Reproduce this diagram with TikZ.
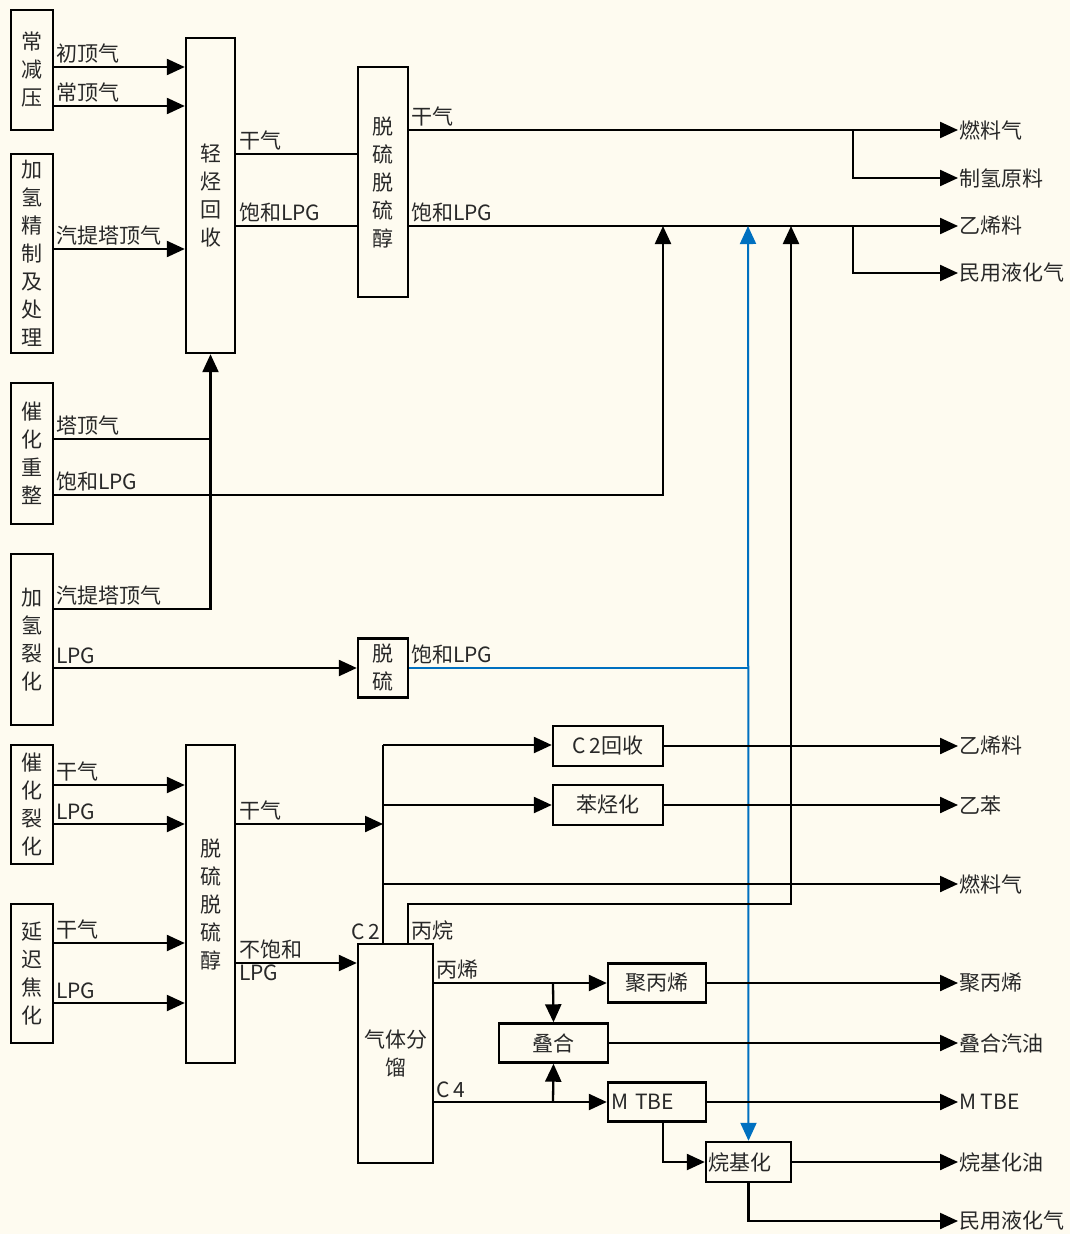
\documentclass[tikz,border=0pt]{standalone}
\usepackage{fontspec}
\setmainfont{Noto Sans CJK SC}
\usetikzlibrary{arrows.meta}
\definecolor{bg}{RGB}{254,251,240}
\definecolor{txt}{RGB}{40,40,40}
\definecolor{bl}{RGB}{0,112,192}
\begin{document}
\begin{tikzpicture}[x=1pt,y=-1pt,
  box/.style={draw=black, line width=2.4pt, inner sep=0pt, align=center, text=txt, font=\fontsize{21}{28}\selectfont},
  lbl/.style={inner sep=1pt, text=txt, font=\fontsize{21}{24}\selectfont},
  abv/.style={lbl, anchor=south west, yshift=3pt},
  ln/.style={line width=2.3pt},
  arr/.style={ln, -{Triangle[length=18pt,width=16pt]}},
  blu/.style={line width=2pt, draw=bl},
  bluarr/.style={line width=2pt, draw=bl, {Triangle[length=18pt,width=16pt]}-{Triangle[length=18pt,width=16pt]}},
]
\fill[bg] (0,0) rectangle (1070,1234);
\useasboundingbox (0,0) rectangle (1070,1234);

% ---- boxes ----
\node[box, minimum width=42, minimum height=120] (cjy) at (32,70) {常\\减\\压};
\node[box, minimum width=42, minimum height=199] (jqj) at (32,253.5) {加\\氢\\精\\制\\及\\处\\理};
\node[box, minimum width=42, minimum height=141] (chz) at (32,453.5) {催\\化\\重\\整};
\node[box, minimum width=42, minimum height=171] (jql) at (32,639.5) {加\\氢\\裂\\化};
\node[box, minimum width=42, minimum height=119] (chl) at (32,804.5) {催\\化\\裂\\化};
\node[box, minimum width=42, minimum height=139] (yjj) at (32,973.5) {延\\迟\\焦\\化};
\node[box, minimum width=49, minimum height=315] (qths) at (210.5,195.5) {轻\\烃\\回\\收};
\node[box, minimum width=50, minimum height=230] (tl1) at (383,182) {脱\\硫\\脱\\硫\\醇};
\node[box, minimum width=50, minimum height=59] (tl) at (383,668) {脱\\硫};
\node[box, minimum width=49, minimum height=318] (tl2) at (210.5,904) {脱\\硫\\脱\\硫\\醇};
\node[box, minimum width=110, minimum height=40] (c2) at (608,746) {C\,2回收};
\node[box, minimum width=110, minimum height=40] (bth) at (608,805) {苯烃化};
\node[box, minimum width=75, minimum height=219] (qtf) at (395.5,1053.5) {气体分\\馏};
\node[box, minimum width=98, minimum height=39] (jbx) at (657,983) {聚丙烯};
\node[box, minimum width=109, minimum height=39] (dh) at (553.5,1043) {叠合};
\node[box, minimum width=98, minimum height=39, text width=92, align=left] (mtbe) at (657,1102) {M TBE};
\node[box, minimum width=85, minimum height=40, text width=80, align=left] (wjh) at (748.5,1162) {烷基化};

% ---- output labels ----
\node[lbl, anchor=west] (o1) at (958,130) {燃料气};
\node[lbl, anchor=west] (o2) at (958,178) {制氢原料};
\node[lbl, anchor=west] (o3) at (958,226) {乙烯料};
\node[lbl, anchor=west] (o4) at (958,273) {民用液化气};
\node[lbl, anchor=west] (o5) at (958,746) {乙烯料};
\node[lbl, anchor=west] (o6) at (958,805) {乙苯};
\node[lbl, anchor=west] (o7) at (958,884) {燃料气};
\node[lbl, anchor=west] (o8) at (958,983) {聚丙烯};
\node[lbl, anchor=west] (o9) at (958,1043) {叠合汽油};
\node[lbl, anchor=west] (o10) at (958,1102) {M TBE};
\node[lbl, anchor=west] (o11) at (958,1162) {烷基化油};
\node[lbl, anchor=west] (o12) at (958,1221) {民用液化气};

% ---- line labels ----
\node[abv] (l1) at (55,67) {初顶气};
\node[abv] (l2) at (55,106) {常顶气};
\node[abv] (l3) at (55,249) {汽提塔顶气};
\node[abv] (l4) at (238,154) {干气};
\node[abv] (l5) at (238,226) {饱和LPG};
\node[abv] (l6) at (410,130) {干气};
\node[abv] (l7) at (410,226) {饱和LPG};
\node[abv] (l8) at (55,439) {塔顶气};
\node[abv] (l9) at (55,495) {饱和LPG};
\node[abv] (l10) at (55,609) {汽提塔顶气};
\node[abv] (l11) at (55,668) {LPG};
\node[abv] (l12) at (410,668) {饱和LPG};
\node[abv] (l13) at (55,785) {干气};
\node[abv] (l14) at (55,824) {LPG};
\node[abv] (l15) at (55,943) {干气};
\node[abv] (l16) at (55,1003) {LPG};
\node[abv] (l17) at (238,824) {干气};
\node[abv] (l18) at (238,963) {不饱和};
\node[lbl, anchor=north west] (l19) at (238,964) {LPG};
\node[lbl, anchor=south east, yshift=3pt] (l20) at (381,944) {C\,2};
\node[abv] (l21) at (410,944) {丙烷};
\node[abv] (l22) at (435,983) {丙烯};
\node[abv] (l23) at (435,1102) {C\,4};

% ---- junction coordinates ----
\coordinate (b1) at (853,130);
\coordinate (b2) at (853,226);
\coordinate (j1) at (663,226);
\coordinate (j2) at (748,226);
\coordinate (j3) at (791,226);
\coordinate (bus) at (383,745);
\coordinate (busb) at (383,944);
\coordinate (pa) at (408,904);
\coordinate (bx) at (553,983);
\coordinate (by) at (553,1102);
\coordinate (bz) at (663,1162);
\coordinate (bu) at (748,668);

% ---- connectors: upper part ----
\draw[arr] (cjy.east |- 0,67) -- (qths.west |- 0,67);
\draw[arr] (cjy.east |- 0,106) -- (qths.west |- 0,106);
\draw[arr] (jqj.east |- 0,249) -- (qths.west |- 0,249);
\draw[ln] (qths.east |- 0,154) -- (tl1.west |- 0,154);
\draw[ln] (qths.east |- 0,226) -- (tl1.west |- 0,226);
\draw[arr] (tl1.east |- 0,130) -- (o1.west);
\draw[arr] (b1) |- (o2.west);
\draw[arr] (tl1.east |- 0,226) -- (o3.west);
\draw[arr] (b2) |- (o4.west);
\draw[ln] (chz.east |- 0,439) -- (qths.south |- 0,439);
\draw[arr] (jql.east |- 0,609) -| (qths.south);
\draw[arr] (chz.east |- 0,495) -| (j1);
\draw[arr] (jql.east |- 0,668) -- (tl.west);
\draw[blu] (tl.east) -- (bu);
\draw[bluarr] (j2) -- (wjh.north);

% ---- connectors: lower part ----
\draw[arr] (chl.east |- 0,785) -- (tl2.west |- 0,785);
\draw[arr] (chl.east |- 0,824) -- (tl2.west |- 0,824);
\draw[arr] (yjj.east |- 0,943) -- (tl2.west |- 0,943);
\draw[arr] (yjj.east |- 0,1003) -- (tl2.west |- 0,1003);
\draw[arr] (tl2.east |- 0,824) -- (bus |- 0,824);
\draw[ln] (bus) -- (busb);
\draw[arr] (bus) -- (c2.west |- bus);
\draw[arr] (bus |- 0,805) -- (bth.west);
\draw[arr] (bus |- 0,884) -- (o7.west);
\draw[arr] (tl2.east |- 0,963) -- (qtf.west |- 0,963);
\draw[arr] (c2.east) -- (o5.west);
\draw[arr] (bth.east) -- (o6.west);
\draw[arr] (qtf.north -| pa) -- (pa) -| (j3);
\draw[arr] (qtf.east |- bx) -- (jbx.west);
\draw[arr] (bx) -- (dh.north);
\draw[arr] (qtf.east |- by) -- (mtbe.west);
\draw[arr] (by) -- (dh.south);
\draw[arr] (jbx.east) -- (o8.west);
\draw[arr] (dh.east) -- (o9.west);
\draw[arr] (mtbe.east) -- (o10.west);
\draw[arr] (mtbe.south -| bz) |- (wjh.west);
\draw[arr] (wjh.east) -- (o11.west);
\draw[arr] (wjh.south) |- (o12.west);
\end{tikzpicture}
\end{document}
